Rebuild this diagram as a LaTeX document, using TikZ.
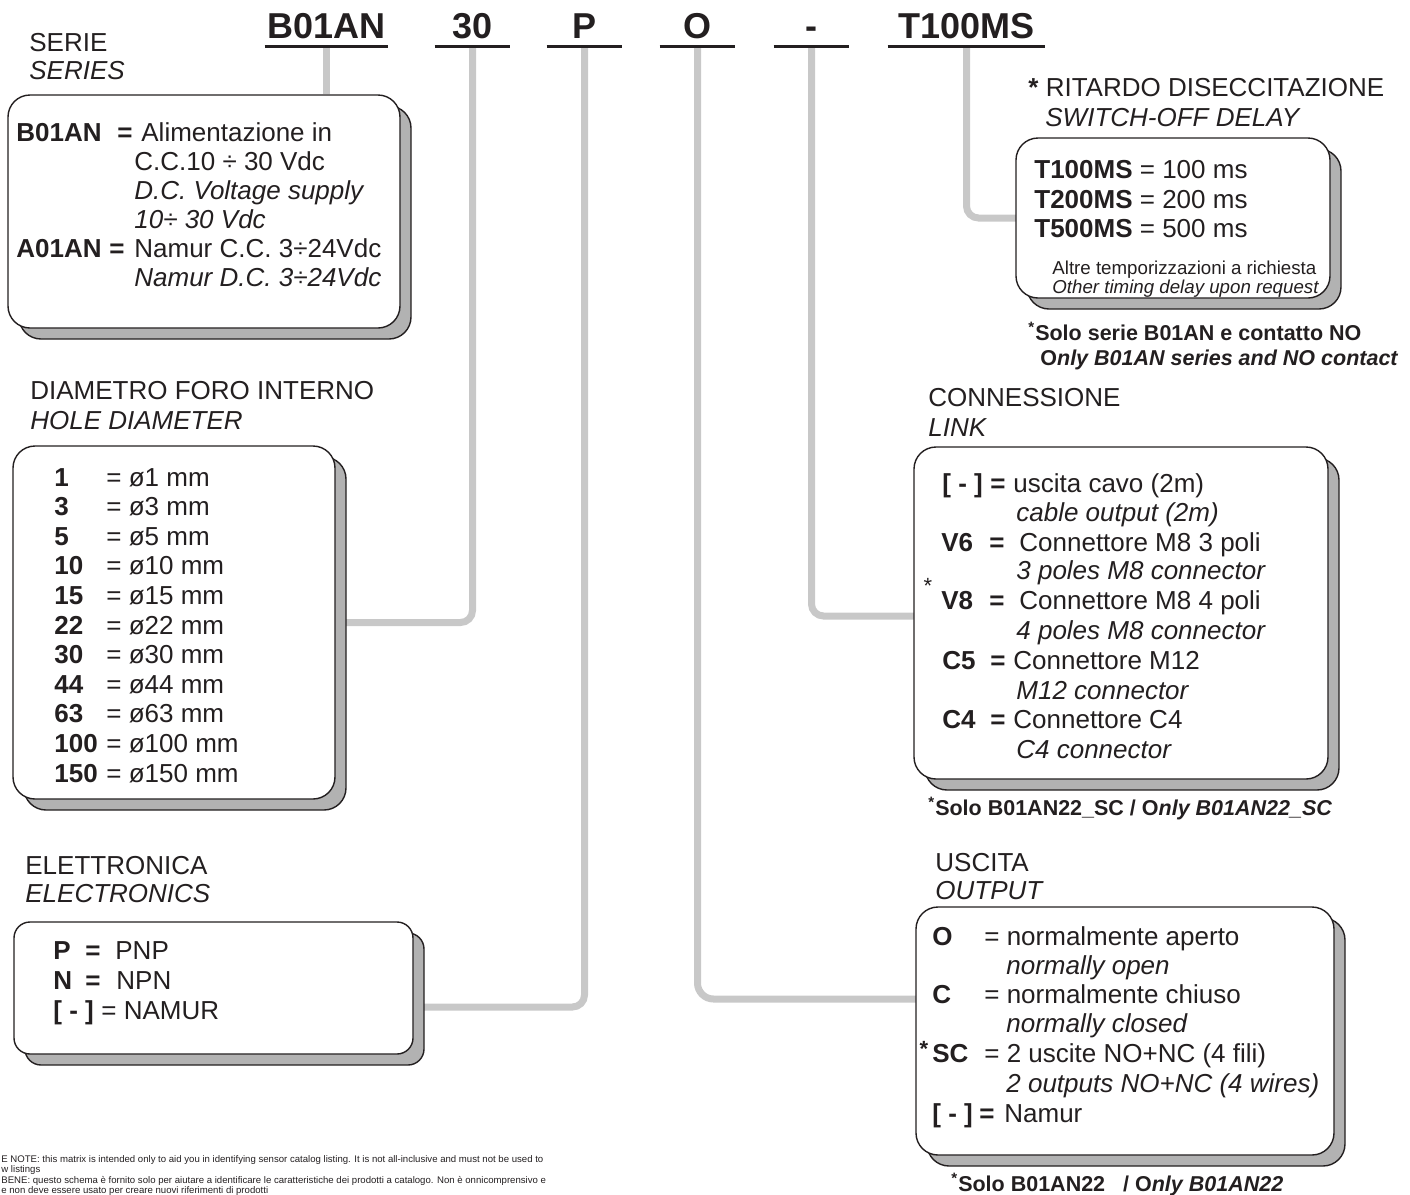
\documentclass[tikz,border=0pt]{standalone}
\usepackage{fontspec}
\setmainfont{Liberation Sans}
\usetikzlibrary{fit}
\definecolor{conngray}{RGB}{200,200,200}
\definecolor{shadegray}{RGB}{178,178,178}
\definecolor{ink}{RGB}{35,31,32}
\pgfdeclarelayer{bg}
\pgfsetlayers{bg,main}
\tikzset{
  txt/.style={anchor=base west, inner sep=0pt, text=ink, font=\fontsize{13}{15}\selectfont},
  hdr/.style={anchor=base, inner xsep=0pt, inner ysep=4pt, text depth=0pt, text=ink,
              font=\bfseries\fontsize{18}{20}\selectfont},
  uline/.style={line width=1.3pt, draw=ink},
  conn/.style={line width=3.5pt, draw=conngray, rounded corners=6pt},
  boxradius/.style={rounded corners=11pt},
  mainbox/.style={draw=ink, line width=0.7pt, fill=white, boxradius, inner sep=0pt},
  shadowbox/.style={draw=ink, line width=0.7pt, fill=shadegray, boxradius},
  small/.style={txt, font=\fontsize{9.35}{11}\selectfont},
  note/.style={txt, font=\bfseries\fontsize{10.75}{12}\selectfont},
  foot/.style={txt, font=\fontsize{4.8}{6}\selectfont},
  star/.style={inner sep=0pt, text=ink, font=\fontsize{11}{12}\selectfont},
}
\newcommand\drawbox[6][]{%
  \path[shadowbox,#1] ({#3+11},{#4+11}) rectangle ({#5+11},{#6+11});
  \node[mainbox,#1, fit={(#3,#4) (#5,#6)}] (#2) {};
}
\begin{document}
\begin{tikzpicture}[x=0.5pt,y=-0.5pt]
\useasboundingbox (0,0) rectangle (1410,1195);
\clip (0,0) rectangle (1410,1195);

% ---------- header codes ----------
\node[hdr, minimum width=61.5pt] (hB) at (326.5,38) {B01AN};
\node[hdr, minimum width=37.5pt] (h30) at (472.5,38) {30};
\node[hdr, minimum width=37.5pt] (hP) at (584.5,38) {P};
\node[hdr, minimum width=37.5pt] (hO) at (697.5,38) {O};
\node[hdr, minimum width=37.5pt] (hD) at (811.5,38) {-};
\node[hdr, minimum width=78.5pt] (hT) at (966.5,38) {T100MS};
\foreach \h in {hB,h30,hP,hO,hD,hT} {\draw[uline] (\h.south west) -- (\h.south east);}

% ---------- boxes ----------
\drawbox{serbox}{8}{95}{400}{328}
\drawbox{diabox}{13}{446}{335}{799}
\drawbox[rounded corners=8pt]{elebox}{14}{922}{413}{1054}
\drawbox{ritbox}{1016}{138}{1330}{298}
\drawbox{conbox}{914}{447}{1328}{779}
\drawbox{uscbox}{916}{907}{1334}{1155}

% ---------- connectors ----------
\coordinate (eleIn) at (413,1007);
\coordinate (uscIn) at (916,999);
\coordinate (conIn) at (914,616);
\coordinate (ritIn) at (1016,218);
\begin{pgfonlayer}{bg}
\draw[conn] (hB.south) -- (hB.south |- serbox.north);
\draw[conn] (h30.south) |- (diabox.east);
\draw[conn] (hP.south) |- (eleIn);
\draw[conn, rounded corners=8pt] (hO.south) |- (uscIn);
\draw[conn] (hD.south) |- (conIn);
\draw[conn] (hT.south) |- (ritIn);
\end{pgfonlayer}

% ---------- SERIE ----------
\node[txt] (serT1) at (29,51) {SERIE};
\node[txt] (serT2) at (29,79) {\itshape SERIES};
\node[txt] (s1a) at (16,141) {\bfseries B01AN};
\node[txt] (s1b) at (117,141) {\bfseries =};
\node[txt] (s1c) at (141,141) {Alimentazione in};
\node[txt] (s2) at (134,170) {C.C.10 ÷ 30 Vdc};
\node[txt] (s3) at (134,199) {\itshape D.C. Voltage supply};
\node[txt] (s4) at (134,228) {\itshape 10÷ 30 Vdc};
\node[txt] (s5a) at (16,257) {\bfseries A01AN};
\node[txt] (s5b) at (109,257) {\bfseries =};
\node[txt] (s5c) at (134,257) {Namur C.C. 3÷24Vdc};
\node[txt] (s6) at (134,286) {\itshape Namur D.C. 3÷24Vdc};

% ---------- DIAMETRO ----------
\node[txt] (diaT1) at (30,399) {DIAMETRO FORO INTERNO};
\node[txt] (diaT2) at (30,429) {\itshape HOLE DIAMETER};
\foreach \num [count=\i from 0] in {1,3,5,10,15,22,30,44,63,100,150} {
  \node[txt] (dn\i) at (54,{486+29.6*\i}) {\bfseries \num};
  \node[txt] (dv\i) at (106,{486+29.6*\i}) {= ø\num\ mm};
}

% ---------- ELETTRONICA ----------
\node[txt] (eleT1) at (25,874) {ELETTRONICA};
\node[txt] (eleT2) at (25,902) {\itshape ELECTRONICS};
\node[txt] (e1a) at (53,959) {\bfseries P};
\node[txt] (e1b) at (85,959) {\bfseries =};
\node[txt] (e1c) at (115,959) {PNP};
\node[txt] (e2a) at (53,989) {\bfseries N};
\node[txt] (e2b) at (85,989) {\bfseries =};
\node[txt] (e2c) at (116,989) {NPN};
\node[txt] (e3a) at (53,1019) {\bfseries [ - ]};
\node[txt] (e3b) at (101,1019) {= NAMUR};

% ---------- RITARDO ----------
\node[txt] (ritT1) at (1028,96) {\textbf{*} RITARDO DISECCITAZIONE};
\node[txt] (ritT2) at (1045,126) {\itshape SWITCH-OFF DELAY};
\node[txt] (r1) at (1034,178) {\textbf{T100MS} = 100 ms};
\node[txt] (r2) at (1034,208) {\textbf{T200MS} = 200 ms};
\node[txt] (r3) at (1034,237) {\textbf{T500MS} = 500 ms};
\node[small] (r4) at (1052,274) {Altre temporizzazioni a richiesta};
\node[small] (r5) at (1052,293) {\itshape Other timing delay upon request};
\node[note] (rn1) at (1028,340) {\textsuperscript{*}Solo serie B01AN e contatto NO};
\node[note] (rn2) at (1040,365) {O\textit{nly B01AN series and NO contact}};

% ---------- CONNESSIONE ----------
\node[txt] (conT1) at (928,406) {CONNESSIONE};
\node[txt] (conT2) at (928,436) {\itshape LINK};
\node[txt] (c1a) at (942,492) {\bfseries [ - ]};
\node[txt] (c1b) at (990,492) {\bfseries =};
\node[txt] (c1c) at (1013,492) {uscita cavo (2m)};
\node[txt] (c2) at (1016,521) {\itshape cable output (2m)};
\node[txt] (c3a) at (941,551) {\bfseries V6};
\node[txt] (c3b) at (989,551) {\bfseries =};
\node[txt] (c3c) at (1019,551) {Connettore M8 3 poli};
\node[txt] (c4) at (1016,579) {\itshape 3 poles M8 connector};
\node[star] (cstar) at (928,586) {*};
\node[txt] (c5a) at (941,609) {\bfseries V8};
\node[txt] (c5b) at (989,609) {\bfseries =};
\node[txt] (c5c) at (1019,609) {Connettore M8 4 poli};
\node[txt] (c6) at (1016,639) {\itshape 4 poles M8 connector};
\node[txt] (c7a) at (942,669) {\bfseries C5};
\node[txt] (c7b) at (990,669) {\bfseries =};
\node[txt] (c7c) at (1013,669) {Connettore M12};
\node[txt] (c8) at (1016,699) {\itshape M12 connector};
\node[txt] (c9a) at (942,728) {\bfseries C4};
\node[txt] (c9b) at (990,728) {\bfseries =};
\node[txt] (c9c) at (1013,728) {Connettore C4};
\node[txt] (c10) at (1016,758) {\itshape C4 connector};
\node[note] (cn) at (928,815) {\textsuperscript{*}Solo B01AN22\_SC / O\textit{nly B01AN22\_SC}};

% ---------- USCITA ----------
\node[txt] (uscT1) at (935,871) {USCITA};
\node[txt] (uscT2) at (935,899) {\itshape OUTPUT};
\node[txt] (u1a) at (932,945) {\bfseries O};
\node[txt] (u1b) at (984,945) {= normalmente aperto};
\node[txt] (u2) at (1006,974) {\itshape normally open};
\node[txt] (u3a) at (932,1003) {\bfseries C};
\node[txt] (u3b) at (984,1003) {= normalmente chiuso};
\node[txt] (u4) at (1006,1032) {\itshape normally closed};
\node[star] (ustar) at (924,1049) {\bfseries *};
\node[txt] (u5a) at (932,1062) {\bfseries SC};
\node[txt] (u5b) at (984,1062) {= 2 uscite NO+NC (4 fili)};
\node[txt] (u6) at (1006,1092) {\itshape 2 outputs NO+NC (4 wires)};
\node[txt] (u7a) at (932,1122) {\bfseries [ - ]};
\node[txt] (u7b) at (979,1122) {\bfseries =};
\node[txt] (u7c) at (1004,1122) {Namur};
\node[note] (un) at (951,1191) {\textsuperscript{*}Solo B01AN22\ \ \ / O\textit{nly B01AN22}};

% ---------- footer ----------
\node[foot] (f1) at (1,1162) {E NOTE: this matrix is intended only to aid you in identifying sensor catalog listing. It is not all-inclusive and must not be used to};
\node[foot] (f2) at (1,1172.5) {w listings};
\node[foot] (f3) at (1,1183) {BENE: questo schema è fornito solo per aiutare a identificare le caratteristiche dei prodotti a catalogo. Non è onnicomprensivo e};
\node[foot] (f4) at (1,1193.5) {e non deve essere usato per creare nuovi riferimenti di prodotti};
\end{tikzpicture}
\end{document}
